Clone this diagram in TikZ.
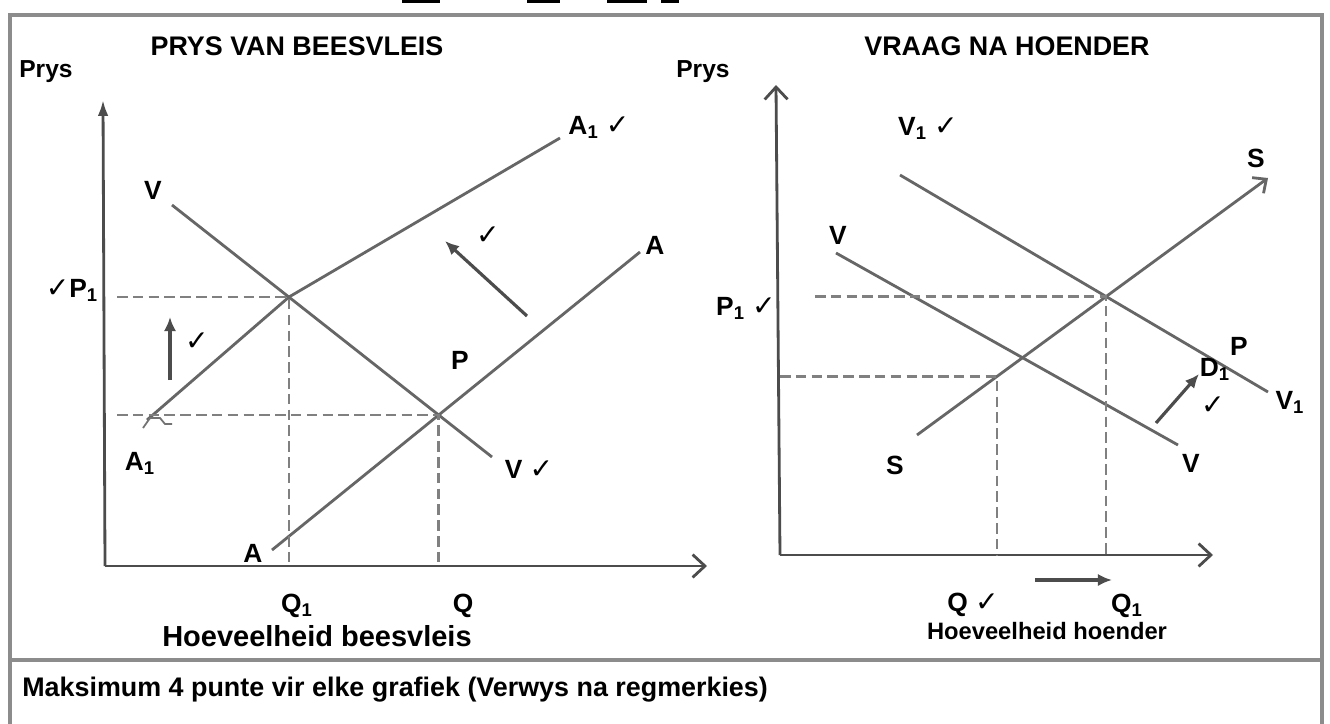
\documentclass[tikz,border=0pt]{standalone}
\usepackage{fontspec}
\setmainfont{Liberation Sans}
\newfontfamily\chk{DejaVu Sans}
\usetikzlibrary{arrows.meta,calc}

\newcommand{\regmerk}{{\chk\mdseries\fontsize{16}{16}\selectfont ✓}}
\tikzset{
  raam/.style={draw=black!45, line width=2.2pt},
  as/.style={draw=black!70, line width=1.6pt},
  kurwe/.style={draw=black!60, line width=1.6pt},
  stippel/.style={draw=black!50, line width=1.4pt, dash pattern=on 6pt off 3pt},
  skuif/.style={draw=black!70, line width=1.8pt, -{Latex[length=8pt,width=7pt]}},
  etiket/.style={font=\fontsize{15}{15}\selectfont\bfseries, inner sep=0pt},
  titel/.style={font=\fontsize{15.3}{15.3}\selectfont\bfseries, inner sep=0pt},
}

\begin{document}
\begin{tikzpicture}[x=0.02cm, y=-0.02cm]
  \useasboundingbox (0,0) rectangle (1330,724);
  \fill[white] (0,0) rectangle (1330,724);
  % 顶部的短线
  \foreach \a/\b in {402/440, 527/560, 607/647, 661/679}
    \draw[line width=1.6pt] (\a,1.5) -- (\b,1.5);
  % 外框
  \draw[raam] (10,724) -- (10,15) -- (1322,15) -- (1322,724);
  \draw[raam] (10,660) -- (1322,660);

  % ---------- 左图: 牛肉价格 ----------
  \coordinate (O1) at (105,566);
  \coordinate (Y1) at (103,100);
  \coordinate (X1) at (707,566);
  \draw[as, -{Latex[length=9pt,width=6pt]}] (O1) -- (Y1);
  \draw[as, -{Straight Barb[length=7pt,width=13pt]}] (O1) -- (X1);
  % 需求与供给曲线
  \coordinate (V0) at (172,205);
  \coordinate (V1) at (492,457);
  \coordinate (B0) at (147,420);
  \coordinate (E1) at (289,297);
  \coordinate (B1) at (560,138);
  \coordinate (A0) at (272,550);
  \coordinate (A1) at (640,252);
  \draw[kurwe] (V0) -- (V1);
  \draw[kurwe] (B0) -- (E1) -- (B1);
  \draw[kurwe] (A0) -- (A1);
  % 交点与虚线
  \coordinate (E2) at (intersection of V0--V1 and A0--A1);
  \coordinate (E1y) at ($(E1 -| O1)+(12,0)$);
  \coordinate (E2y) at ($(E2 -| O1)+(12,0)$);
  \draw[stippel] (E1y) -- (E1) -- (E1 |- O1);
  \draw[stippel] (E2y) -- (E2) -- (E2 |- O1);
  \draw[black!55, line width=1pt] (143,428) -- (150,418) -- (160,418) -- (165,424) -- (172,424);
  % 移动箭头
  \coordinate (u0) at (170,380);
  \coordinate (u1) at (170,317);
  \draw[skuif] (u0) -- (u1);
  \coordinate (w0) at (527,316);
  \coordinate (w1) at (445,241);
  \draw[skuif] (w0) -- (w1);
  % 标签
  \node[titel] (t1) at (297,46) {PRYS VAN BEESVLEIS};
  \node[etiket, font=\fontsize{14}{14}\selectfont\bfseries] (p1) at (46,72) {Prys};
  \node[etiket] (lV) at (153,190) {V};
  \node[etiket] (lVb) at (529,469) {V \regmerk};
  \node[etiket] (lB) at (599,127) {A\textsubscript{1} \regmerk};
  \node[etiket] (lBb) at (140,463) {A\textsubscript{1}};
  \node[etiket] (lA) at (655,245) {A};
  \node[etiket] (lAb) at (253,553) {A};
  \node[etiket] (lP1) at (72,290) {\regmerk P\textsubscript{1}};
  \node[etiket] (lP) at (460,360) {P};
  \node[etiket] (c1) at (197,342) {\regmerk};
  \node[etiket] (c2) at (488,236) {\regmerk};
  \node[etiket] (lQ1) at (297,606) {Q\textsubscript{1}};
  \node[etiket] (lQ) at (463,606) {Q};
  \node[etiket, font=\fontsize{16.5}{16.5}\selectfont\bfseries] (h1) at (317,636) {Hoeveelheid beesvleis};

  % ---------- 右图: 鸡肉需求 ----------
  \coordinate (O2) at (780,555);
  \coordinate (Y2) at (776,85);
  \coordinate (X2) at (1213,555);
  \draw[as, -{Straight Barb[length=7pt,width=13pt]}] (O2) -- (Y2);
  \draw[as, -{Straight Barb[length=7pt,width=13pt]}] (O2) -- (X2);
  % 曲线
  \coordinate (S0) at (917,435);
  \coordinate (S1) at (1268,178);
  \coordinate (W0) at (900,175);
  \coordinate (W1) at (1268,392);
  \coordinate (U0) at (836,253);
  \coordinate (U1) at (1178,445);
  \draw[kurwe, -{Straight Barb[length=6pt,width=11pt]}] (S0) -- (S1);
  \draw[kurwe] (W0) -- (W1);
  \draw[kurwe] (U0) -- (U1);
  % 交点与虚线
  \coordinate (E3) at (intersection of S0--S1 and W0--W1);
  \coordinate (E4) at ($(S0)!0.228!(S1)$);
  \coordinate (E3y) at ($(E3 -| O2)+(35,0)$);
  \draw[stippel] (E3y) -- (E3) -- (E3 |- O2);
  \draw[stippel] (E4 -| O2) -- (E4) -- (E4 |- O2);
  % 移动箭头
  \coordinate (d0) at (1156,423);
  \coordinate (d1) at (1199,374);
  \draw[skuif] (d0) -- (d1);
  \coordinate (q0) at (1035,580);
  \coordinate (q1) at (1112,580);
  \draw[skuif] (q0) -- (q1);
  % 标签
  \node[titel] (t2) at (1007,46) {VRAAG NA HOENDER};
  \node[etiket, font=\fontsize{14}{14}\selectfont\bfseries] (p2) at (703,72) {Prys};
  \node[etiket] (lW) at (928,128) {V\textsubscript{1} \regmerk};
  \node[etiket] (lWb) at (1290,402) {V\textsubscript{1}};
  \node[etiket] (lU) at (838,235) {V};
  \node[etiket] (lUb) at (1191,463) {V};
  \node[etiket] (lS) at (1256,158) {S};
  \node[etiket] (lSb) at (895,465) {S};
  \node[etiket] (lP2) at (746,308) {P\textsubscript{1} \regmerk};
  \node[etiket] (lD) at (1215,369) {D\textsubscript{1}};
  \node[etiket] (lPP) at (1239,346) {P};
  \node[etiket] (c3) at (1213,406) {\regmerk};
  \node[etiket] (lQb) at (973,605) {Q \regmerk};
  \node[etiket] (lQ2) at (1127,606) {Q\textsubscript{1}};
  \node[etiket, font=\fontsize{13.5}{13.5}\selectfont\bfseries] (h2) at (1047,631) {Hoeveelheid hoender};

  % 底部说明
  \node[titel, anchor=west] (voet) at (22,690) {Maksimum 4 punte vir elke grafiek (Verwys na regmerkies)};
\end{tikzpicture}
\end{document}
